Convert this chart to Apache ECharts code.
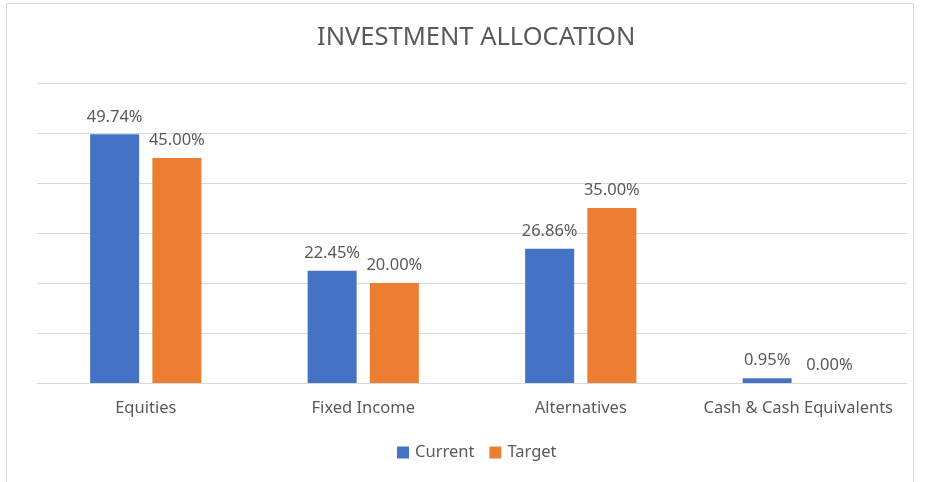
<!DOCTYPE html>
<html>
<head>
<meta charset="utf-8">
<style>
  html, body { margin: 0; padding: 0; background: #fff; }
  #chart { width: 932px; height: 482px; }
</style>
<script src="https://cdn.jsdelivr.net/npm/echarts@6/dist/echarts.min.js"></script>
</head>
<body>
<div id="chart"></div>
<script>
const categories = ['Equities', 'Fixed Income', 'Alternatives', 'Cash & Cash Equivalents']
const currentValues = [49.74, 22.45, 26.86, 0.95]
const targetValues = [45.0, 20.0, 35.0, 0.0]

const font = 'Noto Sans'
const textColor = '#595959'

const chart = echarts.init(document.getElementById('chart'))

const labelStyle = {
  show: true,
  position: 'top',
  distance: 9,
  color: textColor,
  fontFamily: font,
  fontSize: 16.5,
  formatter: (p) => p.value.toFixed(2) + '%'
}

const option = {
  backgroundColor: '#fff',
  animation: false,
  graphic: [
    {
      type: 'rect',
      shape: { x: 6.5, y: 3.5, width: 907, height: 490 },
      style: { fill: 'none', stroke: '#d9d9d9', lineWidth: 1 },
      silent: true
    }
  ],
  title: {
    text: 'INVESTMENT ALLOCATION',
    left: 312,
    top: 20,
    textStyle: {
      color: textColor,
      fontFamily: font,
      fontSize: 25.5,
      fontWeight: 'normal'
    }
  },
  legend: {
    bottom: 16,
    left: 392,
    itemWidth: 12,
    itemHeight: 12,
    itemGap: 15,
    icon: 'rect',
    textStyle: { color: textColor, fontFamily: font, fontSize: 16.5, padding: [0, 0, 0, 1] },
    data: ['Current', 'Target']
  },
  grid: { left: 37, right: 25, top: 83, bottom: 99 },
  xAxis: {
    type: 'category',
    data: categories,
    axisLine: { lineStyle: { color: '#d9d9d9', width: 1 } },
    axisTick: { show: false },
    axisLabel: {
      interval: 0,
      color: textColor,
      fontFamily: font,
      fontSize: 16.5,
      margin: 17
    }
  },
  yAxis: {
    type: 'value',
    min: 0,
    max: 60,
    interval: 10,
    axisLabel: { show: false },
    axisLine: { show: false },
    axisTick: { show: false },
    splitLine: { lineStyle: { color: '#d9d9d9', width: 1 } }
  },
  series: [
    {
      name: 'Current',
      type: 'bar',
      data: currentValues,
      barWidth: 49,
      barGap: '27%',
      itemStyle: { color: '#4472c4' },
      label: labelStyle
    },
    {
      name: 'Target',
      type: 'bar',
      data: targetValues,
      barWidth: 49,
      itemStyle: { color: '#ed7d31' },
      label: labelStyle
    }
  ]
}

chart.setOption(option)
</script>
</body>
</html>
